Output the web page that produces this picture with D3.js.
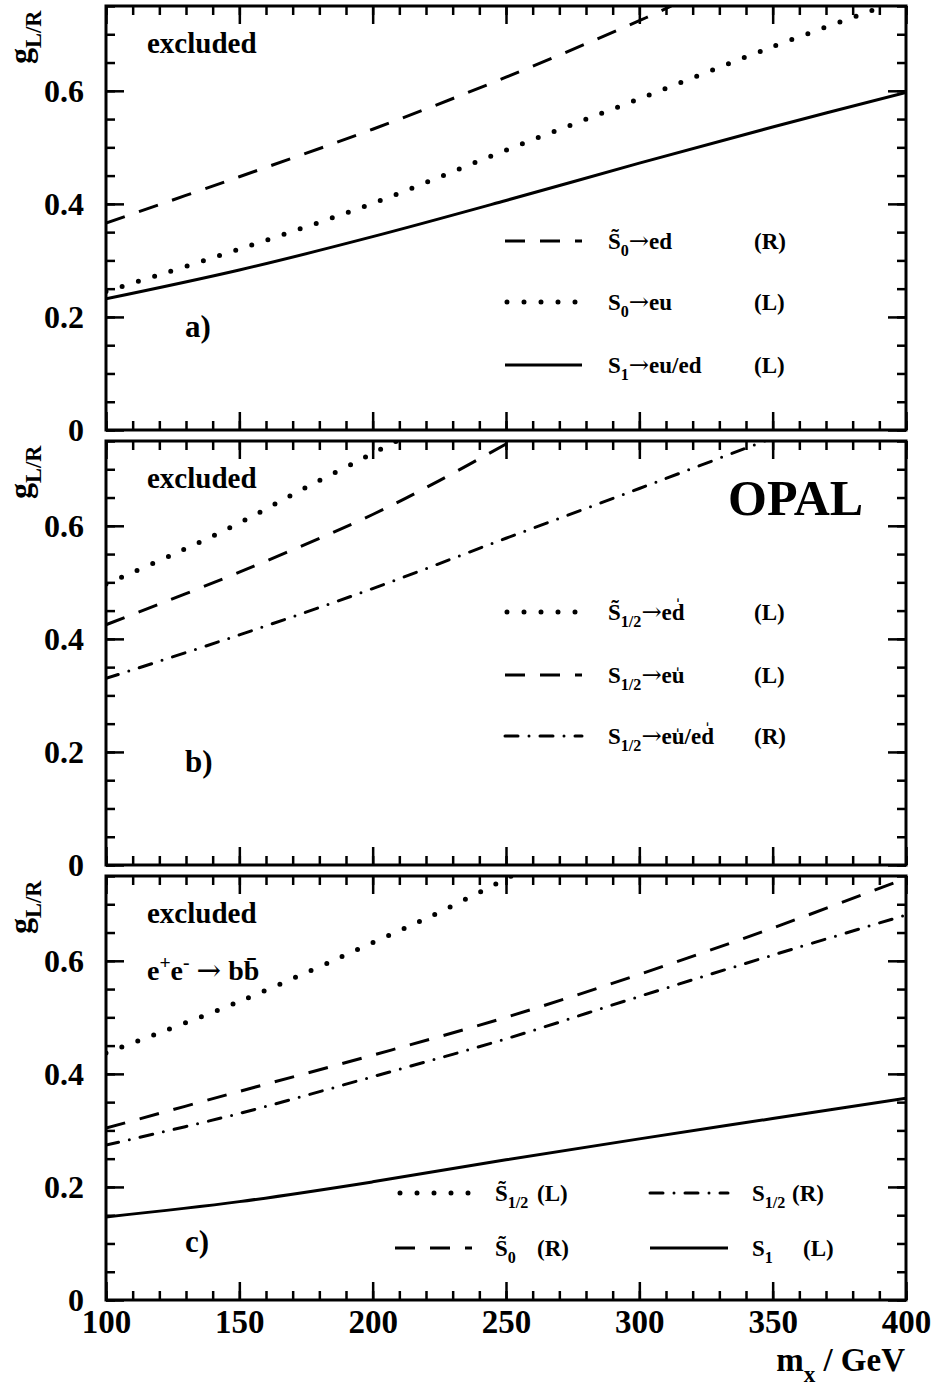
<!DOCTYPE html>
<head>
    <title>OPAL leptoquark coupling limits</title>
    <meta charset="utf-8">
    <style>
    body { margin: 0; background: #fff; }
    svg { display: block; }
    text { font-family: "Liberation Serif", "Times New Roman", serif; font-weight: bold; fill: #000; }
    .tick line { stroke: #000; stroke-width: 2.5; }
    .curve { fill: none; stroke: #000; }
    </style>
    <script src="https://d3js.org/d3.v7.min.js"></script>
</head>
<body>
<script>
// x ticks / y ticks
const xMajor = [100, 150, 200, 250, 300, 350, 400];
const yMajor = [0, 0.2, 0.4, 0.6];

// panel a) : S~0 -> ed (R), S0 -> eu (L), S1 -> eu/ed (L)
const massA_dash = [100, 150, 200, 250, 300, 312];
const gA_dash    = [0.366, 0.448, 0.532, 0.624, 0.724, 0.75];
const massA_dot  = [100, 150, 200, 250, 300, 350, 392];
const gA_dot     = [0.245, 0.320, 0.401, 0.495, 0.586, 0.678, 0.75];
const massA_line = [100, 150, 200, 250, 300, 350, 400];
const gA_line    = [0.232, 0.283, 0.342, 0.406, 0.472, 0.536, 0.597];

// panel b) : S~1/2 -> ed (L), S1/2 -> eu (L), S1/2 -> eu/ed (R)
const massB_dot  = [100, 125, 150, 175, 200, 209];
const gB_dot     = [0.497, 0.549, 0.605, 0.668, 0.728, 0.75];
const massB_dash = [100, 150, 200, 225, 252];
const gB_dash    = [0.425, 0.518, 0.620, 0.680, 0.75];
const massB_dd   = [100, 150, 200, 250, 300, 347];
const gB_dd      = [0.330, 0.407, 0.489, 0.578, 0.666, 0.75];

// panel c) : e+e- -> bb
const massC_dot  = [100, 150, 200, 225, 252];
const gC_dot     = [0.437, 0.528, 0.632, 0.686, 0.75];
const massC_dash = [100, 150, 200, 250, 300, 350, 400];
const gC_dash    = [0.304, 0.369, 0.433, 0.500, 0.576, 0.658, 0.746];
const massC_dd   = [100, 150, 200, 250, 300, 350, 400];
const gC_dd      = [0.274, 0.330, 0.395, 0.462, 0.537, 0.610, 0.681];
const massC_line = [100, 150, 200, 250, 300, 350, 400];
const gC_line    = [0.147, 0.174, 0.209, 0.248, 0.285, 0.321, 0.357];

const W = 933, H = 1387;
const left = 106, right = 906, panelH = 424;
const bottoms = [430, 865, 1300];

const dashStyles = {
    solid:   { dash: null, cap: 'butt', width: 3 },
    dash:    { dash: '20,15', cap: 'butt', width: 3 },
    dot:     { dash: '0,17', cap: 'round', width: 5 },
    dashdot: { dash: '13,11,0,11', cap: 'round', width: 3 }
};

const zip = (ms, gs) => ms.map((m, i) => ({ m: m, g: gs[i] }));

const ARROW = ['\u2192', 'arrow'];

const panels = [
    {
        label: 'a)', labelY: 337,
        series: [
            { data: zip(massA_dash, gA_dash), style: 'dash' },
            { data: zip(massA_dot, gA_dot), style: 'dot' },
            { data: zip(massA_line, gA_line), style: 'solid' }
        ],
        legend: [
            { style: 'dash', x1: 505, x2: 582, y: 241, tx: 608, parts: [['S\u0303'], ['0', 'sub'], ARROW, ['ed']], tag: '(R)', tagX: 754 },
            { style: 'dot', x1: 507, x2: 582, y: 302, tx: 608, parts: [['S'], ['0', 'sub'], ARROW, ['eu']], tag: '(L)', tagX: 754 },
            { style: 'solid', x1: 505, x2: 582, y: 365, tx: 608, parts: [['S'], ['1', 'sub'], ARROW, ['eu/ed']], tag: '(L)', tagX: 754 }
        ]
    },
    {
        label: 'b)', labelY: 772,
        series: [
            { data: zip(massB_dot, gB_dot), style: 'dot' },
            { data: zip(massB_dash, gB_dash), style: 'dash' },
            { data: zip(massB_dd, gB_dd), style: 'dashdot' }
        ],
        legend: [
            { style: 'dot', x1: 507, x2: 582, y: 612, tx: 608, parts: [['S\u0303'], ['1/2', 'sub'], ARROW, ['ed\u030D']], tag: '(L)', tagX: 754 },
            { style: 'dash', x1: 505, x2: 582, y: 675, tx: 608, parts: [['S'], ['1/2', 'sub'], ARROW, ['eu\u030D']], tag: '(L)', tagX: 754 },
            { style: 'dashdot', x1: 505, x2: 582, y: 736, tx: 608, parts: [['S'], ['1/2', 'sub'], ARROW, ['eu\u030D/ed\u030D']], tag: '(R)', tagX: 754 }
        ]
    },
    {
        label: 'c)', labelY: 1252,
        series: [
            { data: zip(massC_dot, gC_dot), style: 'dot' },
            { data: zip(massC_dash, gC_dash), style: 'dash' },
            { data: zip(massC_dd, gC_dd), style: 'dashdot' },
            { data: zip(massC_line, gC_line), style: 'solid' }
        ],
        legend: [
            { style: 'dot', x1: 400, x2: 472, y: 1193, tx: 495, parts: [['S\u0303'], ['1/2', 'sub']], tag: '(L)', tagX: 537 },
            { style: 'dash', x1: 395, x2: 472, y: 1248, tx: 495, parts: [['S\u0303'], ['0', 'sub']], tag: '(R)', tagX: 537 },
            { style: 'dashdot', x1: 650, x2: 728, y: 1193, tx: 752, parts: [['S'], ['1/2', 'sub']], tag: '(R)', tagX: 792 },
            { style: 'solid', x1: 650, x2: 728, y: 1248, tx: 752, parts: [['S'], ['1', 'sub']], tag: '(L)', tagX: 803 }
        ]
    }
];

const svg = d3.select('body').append('svg')
    .attr('width', W)
    .attr('height', H);

const x = d3.scaleLinear().domain([100, 400]).range([left, right]);

function styleLine(sel, style) {
    const s = dashStyles[style];
    sel.attr('class', 'curve')
        .style('stroke-width', s.width)
        .style('stroke-linecap', s.cap)
        .style('stroke-dasharray', s.dash);
}

// text with subscripts / superscripts
function richText(g, px, py, parts, size) {
    const t = g.append('text').attr('x', px).attr('y', py).attr('font-size', size);
    let shift = 0;
    parts.forEach(p => {
        const ts = t.append('tspan').text(p[0]);
        let target = 0;
        if (p[1] === 'sub') { target = size * 0.32; ts.attr('font-size', size * 0.7); }
        if (p[1] === 'sup') { target = -size * 0.38; ts.attr('font-size', size * 0.7); }
        if (p[1] === 'arrow') {
            ts.style('font-family', '"DejaVu Serif", serif').style('font-weight', 'normal')
                .attr('font-size', size * 1.05);
        }
        if (target !== shift) ts.attr('dy', target - shift);
        shift = target;
    });
    return t;
}

panels.forEach((p, i) => {
    const bottom = bottoms[i];
    const top = bottom - panelH;
    const y = d3.scaleLinear().domain([0, 0.75]).range([bottom, top]);
    const g = svg.append('g');

    const clipId = 'clip' + i;
    svg.append('clipPath').attr('id', clipId)
        .append('rect').attr('x', left).attr('y', top).attr('width', right - left).attr('height', panelH);

    // curves
    const line = d3.line()
        .x(d => x(d.m))
        .y(d => y(d.g))
        .curve(d3.curveCatmullRom.alpha(0.5));

    g.append('g').attr('clip-path', `url(#${clipId})`)
        .selectAll('path')
        .data(p.series)
        .join('path')
        .attr('d', d => line(d.data))
        .each(function (d) { styleLine(d3.select(this), d.style); });

    // ticks on all four sides, pointing inward
    const xMinor = d3.range(100, 401, 10);
    const yMinor = d3.range(0, 0.7501, 0.05);

    g.append('g').attr('transform', `translate(0,${bottom})`)
        .call(d3.axisBottom(x).tickValues(xMinor).tickSize(-9).tickFormat(''));
    g.append('g').attr('transform', `translate(0,${top})`)
        .call(d3.axisTop(x).tickValues(xMinor).tickSize(-9).tickFormat(''));
    g.append('g').attr('transform', `translate(0,${top})`)
        .call(d3.axisTop(x).tickValues(xMajor).tickSize(-18).tickFormat(''));

    const xAx = g.append('g').attr('transform', `translate(0,${bottom})`)
        .call(d3.axisBottom(x).tickValues(xMajor).tickSize(-18).tickPadding(10)
            .tickFormat(i === 2 ? d3.format('d') : ''));

    g.append('g').attr('transform', `translate(${left},0)`)
        .call(d3.axisLeft(y).tickValues(yMinor).tickSize(-9).tickFormat(''));
    g.append('g').attr('transform', `translate(${right},0)`)
        .call(d3.axisRight(y).tickValues(yMinor).tickSize(-9).tickFormat(''));
    g.append('g').attr('transform', `translate(${right},0)`)
        .call(d3.axisRight(y).tickValues(yMajor).tickSize(-18).tickFormat(''));
    const yAx = g.append('g').attr('transform', `translate(${left},0)`)
        .call(d3.axisLeft(y).tickValues(yMajor).tickSize(-18).tickPadding(22)
            .tickFormat(d => d === 0 ? '0' : d.toFixed(1)));

    g.selectAll('.domain').remove();
    xAx.selectAll('text').attr('font-size', 33).attr('font-family', null);
    yAx.selectAll('text').attr('font-size', 32).attr('font-family', null);

    // frame
    g.append('rect')
        .attr('x', left).attr('y', top)
        .attr('width', right - left).attr('height', panelH)
        .attr('fill', 'none').attr('stroke', '#000').attr('stroke-width', 3);

    // y title g_L/R
    const yt = g.append('g').attr('transform', `translate(31,${top + 58}) rotate(-90)`);
    richText(yt, 0, 0, [['g'], ['L/R', 'sub']], 32);

    // annotations
    g.append('text').attr('x', 147).attr('y', top + 47).attr('font-size', 29).text('excluded');
    g.append('text').attr('x', 185).attr('y', p.labelY).attr('font-size', 31).text(p.label);

    // legend
    p.legend.forEach(e => {
        const l = g.append('line')
            .attr('x1', e.x1).attr('x2', e.x2).attr('y1', e.y).attr('y2', e.y)
            .attr('stroke', '#000');
        styleLine(l, e.style);
        richText(g, e.tx, e.y + 8, e.parts, 23);
        g.append('text').attr('x', e.tagX).attr('y', e.y + 8).attr('font-size', 23).text(e.tag);
    });
});

// extra labels
svg.append('text').attr('x', 728).attr('y', 515).attr('font-size', 50).text('OPAL');
richText(svg, 147, 980, [['e'], ['+', 'sup'], ['e'], ['-', 'sup'], [' '], ARROW, ['  bb\u0304']], 28);

// x title
richText(svg, 905, 1371, [['m'], ['x', 'sub'], [' / GeV']], 33).attr('text-anchor', 'end');
</script>
</body>
</html>
